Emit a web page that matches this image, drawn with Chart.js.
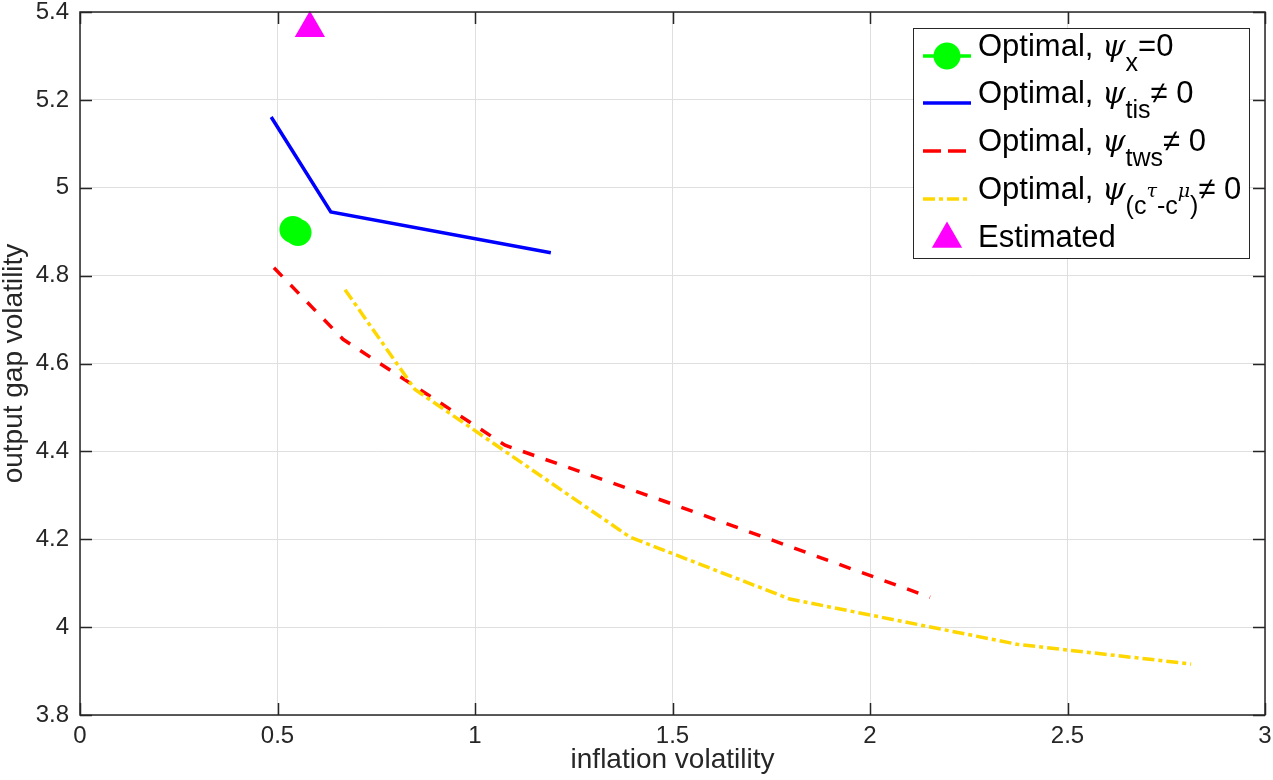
<!DOCTYPE html>
<html>
<head>
<meta charset="utf-8">
<script src="https://cdn.jsdelivr.net/npm/chart.js@4.4.1/dist/chart.umd.min.js"></script>
<style>
  body { margin: 0; background: #fff; }
  canvas { display: block; }
</style>
</head>
<body>
<canvas id="frontier" width="1273" height="780"></canvas>
<script>
// --- Data ---
const xTicks = [0, 0.5, 1, 1.5, 2, 2.5, 3];
const yTicks = [3.8, 4, 4.2, 4.4, 4.6, 4.8, 5, 5.2, 5.4];

const greenX = [0.539, 0.552];
const greenY = [4.905, 4.898];

const blueX = [0.484, 0.635, 1.192];
const blueY = [5.161, 4.945, 4.852];

const redX = [0.491, 0.666, 1.076, 1.5, 2.152];
const redY = [4.818, 4.655, 4.414, 4.28, 4.068];

const yellowX = [0.671, 0.848, 1.392, 1.797, 2.372, 2.813];
const yellowY = [4.768, 4.541, 4.205, 4.064, 3.961, 3.916];

const estX = [0.582];
const estY = [5.363];

const FONT = '"Liberation Sans", Arial, Helvetica, sans-serif';
const INK = '#262626';

const pts = (xs, ys) => xs.map((x, i) => ({ x, y: ys[i] }));

// kill the label overhang padding so the plot box lands where MATLAB put it
const noPad = s => { s.paddingTop = 0; s.paddingBottom = 0; s.paddingLeft = 0; s.paddingRight = 0; };

// --- Axes box + inward ticks (MATLAB style) ---
const boxPlugin = {
    id: 'box',
    afterDatasetsDraw(chart) {
        const { ctx, chartArea: a, scales } = chart;
        const len = 12;
        ctx.save();
        ctx.strokeStyle = INK;
        ctx.lineWidth = 1.5;
        ctx.beginPath();
        xTicks.forEach(v => {
            const px = Math.round(scales.x.getPixelForValue(v)) + 0.5;
            ctx.moveTo(px, a.bottom); ctx.lineTo(px, a.bottom - len);
            ctx.moveTo(px, a.top); ctx.lineTo(px, a.top + len);
        });
        yTicks.forEach(v => {
            const py = Math.round(scales.y.getPixelForValue(v)) + 0.5;
            ctx.moveTo(a.left, py); ctx.lineTo(a.left + len, py);
            ctx.moveTo(a.right, py); ctx.lineTo(a.right - len, py);
        });
        ctx.stroke();
        ctx.strokeRect(a.left, a.top, a.right - a.left, a.bottom - a.top);
        ctx.restore();
    }
};

// --- Legend with subscripts, drawn by hand ---
const runStyles = {
    n:   { font: `31px ${FONT}`, dy: 0 },
    g:   { font: 'italic 30px "DejaVu Serif", "Liberation Serif", serif', dy: 0 },
    sub: { font: `25px ${FONT}`, dy: 15 },
    sup: { font: 'italic 19px "DejaVu Serif", "Liberation Serif", serif', dy: -2 }
};

const legendRows = [
    { sym: 'circle', color: '#00ff00', baseline: 56,
      runs: [['Optimal, ', 'n'], ['ψ', 'g'], ['x', 'sub'], ['=0', 'n']] },
    { sym: 'solid', color: '#0000ff', baseline: 103,
      runs: [['Optimal, ', 'n'], ['ψ', 'g'], ['tis', 'sub'], ['≠ 0', 'n']] },
    { sym: 'dash', color: '#ff0000', baseline: 151,
      runs: [['Optimal, ', 'n'], ['ψ', 'g'], ['tws', 'sub'], ['≠ 0', 'n']] },
    { sym: 'dashdot', color: '#ffd700', baseline: 199,
      runs: [['Optimal, ', 'n'], ['ψ', 'g'], ['(c', 'sub'], ['τ', 'sup'], ['-c', 'sub'], ['μ', 'sup'], [')', 'sub'], ['≠ 0', 'n']] },
    { sym: 'triangle', color: '#ff00ff', baseline: 247,
      runs: [['Estimated', 'n']] }
];

const legendPlugin = {
    id: 'texLegend',
    afterDraw(chart) {
        const ctx = chart.ctx;
        ctx.save();
        ctx.fillStyle = '#fff';
        ctx.fillRect(913.5, 28.5, 336, 230);
        ctx.strokeStyle = INK;
        ctx.lineWidth = 1;
        ctx.strokeRect(913.5, 28.5, 336, 230);

        legendRows.forEach(row => {
            const cy = row.baseline;
            ctx.strokeStyle = row.color;
            ctx.fillStyle = row.color;
            ctx.lineWidth = 3.5;
            if (row.sym !== 'triangle') {
                ctx.setLineDash(row.sym === 'dash' ? [18, 7] : row.sym === 'dashdot' ? [12, 4, 4, 4] : []);
                ctx.beginPath();
                ctx.moveTo(923, cy); ctx.lineTo(971, cy);
                ctx.stroke();
                ctx.setLineDash([]);
            }
            if (row.sym === 'circle') {
                ctx.beginPath(); ctx.arc(947, cy, 13.5, 0, Math.PI * 2); ctx.fill();
            }
            if (row.sym === 'triangle') {
                const r = 17.5, c = cy - 8;
                ctx.beginPath();
                ctx.moveTo(947, c - r);
                ctx.lineTo(947 + r * Math.sin(Math.PI * 2 / 3), c + r / 2);
                ctx.lineTo(947 - r * Math.sin(Math.PI * 2 / 3), c + r / 2);
                ctx.closePath(); ctx.fill();
            }

            ctx.fillStyle = '#000';
            ctx.textBaseline = 'alphabetic';
            ctx.textAlign = 'left';
            let x = 978;
            row.runs.forEach(([text, style]) => {
                const s = runStyles[style];
                ctx.font = s.font;
                ctx.fillText(text, x, cy + s.dy);
                x += ctx.measureText(text).width;
            });
        });
        ctx.restore();
    }
};

new Chart(document.getElementById('frontier'), {
    type: 'line',
    data: {
        datasets: [
            { label: 'Optimal, ψx=0', data: pts(greenX, greenY), order: 5,
              borderColor: '#00ff00', backgroundColor: '#00ff00', borderWidth: 3.5,
              pointRadius: 13.5, pointBorderWidth: 0 },
            { label: 'Optimal, ψtis≠ 0', data: pts(blueX, blueY), order: 4,
              borderColor: '#0000ff', borderWidth: 3.5, pointRadius: 0 },
            { label: 'Optimal, ψtws≠ 0', data: pts(redX, redY), order: 3,
              borderColor: '#ff0000', borderWidth: 3.5, borderDash: [12, 12], pointRadius: 0 },
            { label: 'Optimal, ψ(cτ-cμ)≠ 0', data: pts(yellowX, yellowY), order: 2,
              borderColor: '#ffd700', borderWidth: 3.5, borderDash: [12, 4, 4, 4], pointRadius: 0 },
            { label: 'Estimated', data: pts(estX, estY), order: 1, showLine: false, clip: false,
              borderColor: '#ff00ff', backgroundColor: '#ff00ff', pointStyle: 'triangle',
              pointRadius: 17.5, pointBorderWidth: 0 }
        ]
    },
    options: {
        responsive: false,
        animation: false,
        devicePixelRatio: 1,
        layout: { autoPadding: false, padding: { top: 12, right: 8, left: 0, bottom: 0 } },
        elements: { line: { tension: 0 } },
        plugins: { legend: { display: false }, tooltip: { enabled: false } },
        scales: {
            x: {
                type: 'linear', min: 0, max: 3,
                afterBuildTicks: s => { s.ticks = xTicks.map(v => ({ value: v })); },
                afterFit: s => { s.height = 65; noPad(s); },
                border: { display: false },
                grid: { color: '#dfdfdf', drawTicks: false },
                ticks: { color: INK, font: { family: FONT, size: 24 }, padding: 7,
                         maxRotation: 0, autoSkip: false, callback: v => String(v) },
                title: { display: true, text: 'inflation volatility', color: INK,
                         font: { family: FONT, size: 28, lineHeight: 1 }, padding: { top: 0, bottom: 6 } }
            },
            y: {
                type: 'linear', min: 3.8, max: 5.4,
                afterBuildTicks: s => { s.ticks = yTicks.map(v => ({ value: v })); },
                afterFit: s => { s.width = 80; noPad(s); },
                border: { display: false },
                grid: { color: '#dfdfdf', drawTicks: false },
                ticks: { color: INK, font: { family: FONT, size: 24 }, padding: 11,
                         autoSkip: false, callback: v => String(v) },
                title: { display: true, text: 'output gap volatility', color: INK,
                         font: { family: FONT, size: 28, lineHeight: 1 }, padding: { top: 0, bottom: 0 } }
            }
        }
    },
    plugins: [boxPlugin, legendPlugin]
});
</script>
</body>
</html>
